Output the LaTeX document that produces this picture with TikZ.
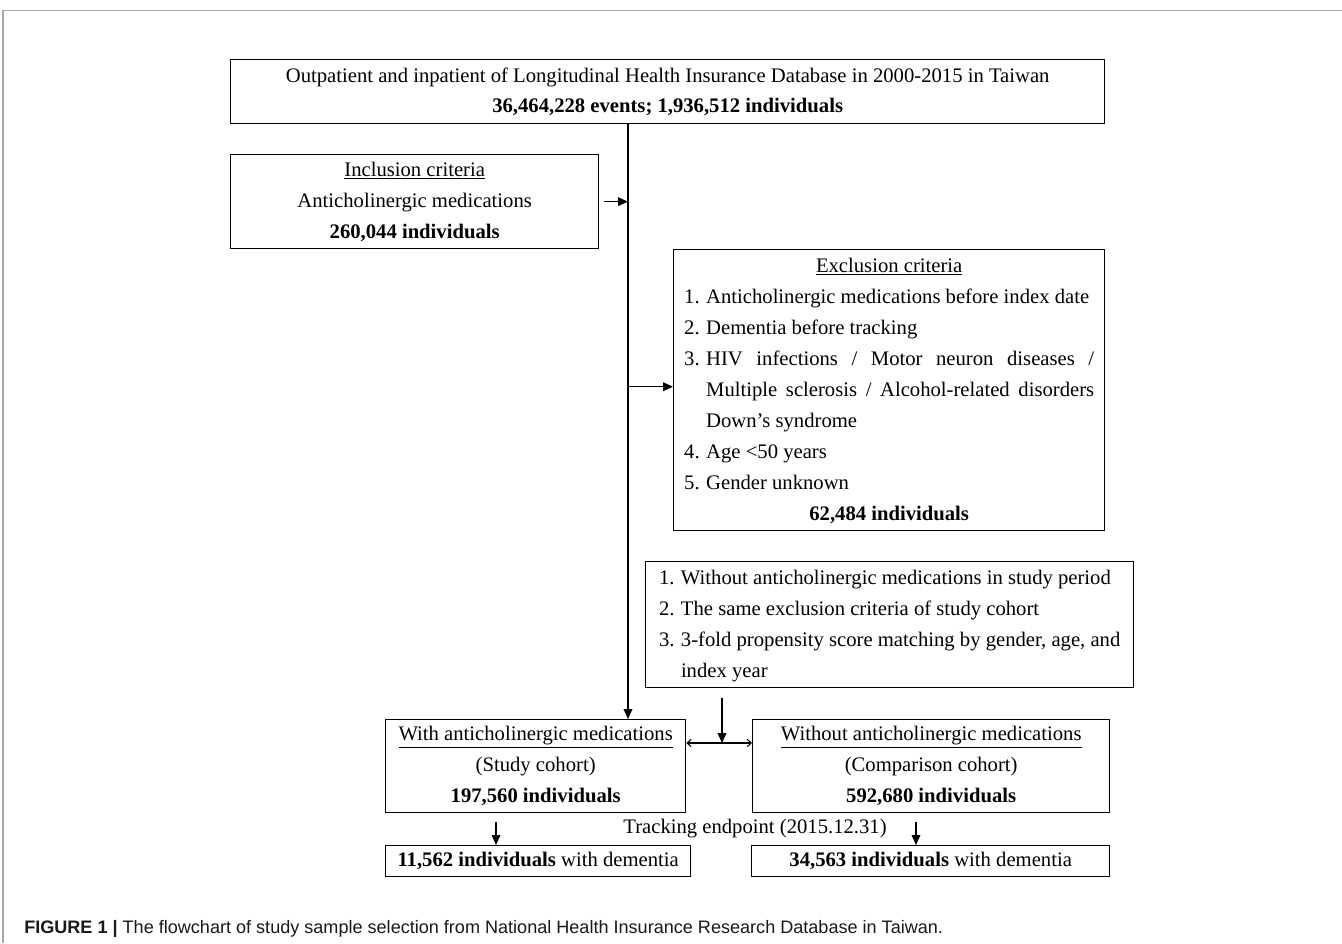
\documentclass[tikz,border=0pt]{standalone}
\usepackage{fontspec}
\setmainfont{Liberation Serif}
\newfontfamily\capfont{Liberation Sans}
\usetikzlibrary{arrows.meta}
\begin{document}
\begin{tikzpicture}[x=0.75pt,y=-0.75pt,
  box/.style={draw, line width=1pt, inner sep=0pt, anchor=north west, align=center,
    font=\fontsize{15.5}{23.25}\selectfont},
  arr/.style={line width=1pt, -{Triangle[length=7.5pt,width=6.5pt]}},
  darr/.style={line width=0.8pt, {Straight Barb[length=3pt,width=5.5pt]}-{Straight Barb[length=3pt,width=5.5pt]}},
  lbl/.style={inner sep=0pt, font=\fontsize{15.5}{23.25}\selectfont}]
\useasboundingbox (0,0) rectangle (1342,943);
\draw[black!35, line width=1.2pt] (1342,10.5) -- (3,10.5) -- (3,943);

\node[box, minimum width=655.5pt, minimum height=48pt, font=\fontsize{15.5}{22.5}\selectfont] (top) at (230,59)
  {Outpatient and inpatient of Longitudinal Health Insurance Database in 2000-2015 in Taiwan\\
   \textbf{36,464,228 events; 1,936,512 individuals}};

\node[box, minimum width=276pt, minimum height=70.5pt] (incl) at (230,154)
  {\underline{Inclusion criteria}\\ Anticholinergic medications\\ \textbf{260,044 individuals}};

\node[box, minimum width=323.25pt, minimum height=210.75pt] (excl) at (673,249)
  {\begin{tabular}{@{}p{16.5pt}@{}l@{}}
   \multicolumn{2}{@{}c@{}}{\underline{Exclusion criteria}}\\
   1. & Anticholinergic medications before index date\\
   2. & Dementia before tracking\\
   3. & \makebox[291pt][s]{HIV infections / Motor neuron diseases /}\\
      & \makebox[291pt][s]{Multiple sclerosis / Alcohol-related disorders}\\
      & Down’s syndrome\\
   4. & Age <50 years\\
   5. & Gender unknown\\
   \multicolumn{2}{@{}c@{}}{\textbf{62,484 individuals}}
   \end{tabular}};

\node[box, minimum width=366pt, minimum height=94.5pt] (match) at (645,561)
  {\begin{tabular}{@{}p{16.5pt}@{}l@{}}
   1. & Without anticholinergic medications in study period\\
   2. & The same exclusion criteria of study cohort\\
   3. & 3-fold propensity score matching by gender, age, and\\
      & index year
   \end{tabular}};

\node[box, minimum width=225pt, minimum height=69.75pt] (study) at (385,719)
  {\underline{With anticholinergic medications}\\ (Study cohort)\\ \textbf{197,560 individuals}};

\node[box, minimum width=267.75pt, minimum height=69.75pt] (comp) at (752,719)
  {\underline{Without anticholinergic medications}\\ (Comparison cohort)\\ \textbf{592,680 individuals}};

\node[box, minimum width=228.75pt, minimum height=23.25pt] (dem1) at (385,845)
  {\textbf{11,562 individuals} with dementia};

\node[box, minimum width=268.5pt, minimum height=23.25pt] (dem2) at (751,845)
  {\textbf{34,563 individuals} with dementia};

\node[lbl] (track) at (755,829) {Tracking endpoint (2015.12.31)};

\node[anchor=west, inner sep=0pt, text=black!90, font=\capfont\fontsize{13.55}{15}\selectfont] (cap) at (24,929)
  {\textbf{FIGURE 1 |} The flowchart of study sample selection from National Health Insurance Research Database in Taiwan.};

% connectors
\coordinate (mx) at (628,0);
\draw[arr] (top.south -| mx) -- (study.north -| mx);
\draw[arr] ([xshift=3.75pt]incl.east) -- (incl.east -| mx);
\coordinate (ex) at ([yshift=2.6pt]excl.west);
\draw[arr] (ex -| mx) -- (ex);
\coordinate (mj) at (722,743);
\coordinate (ms) at ([yshift=-7.5pt]match.south);
\draw[arr] (ms -| mj) -- (mj);
\draw[darr] (study.east |- mj) -- (comp.west |- mj);
\coordinate (a1) at (496,822);
\draw[arr] (a1) -- (a1 |- dem1.north);
\coordinate (a2) at (916,822);
\draw[arr] (a2) -- (a2 |- dem2.north);
\end{tikzpicture}
\end{document}
